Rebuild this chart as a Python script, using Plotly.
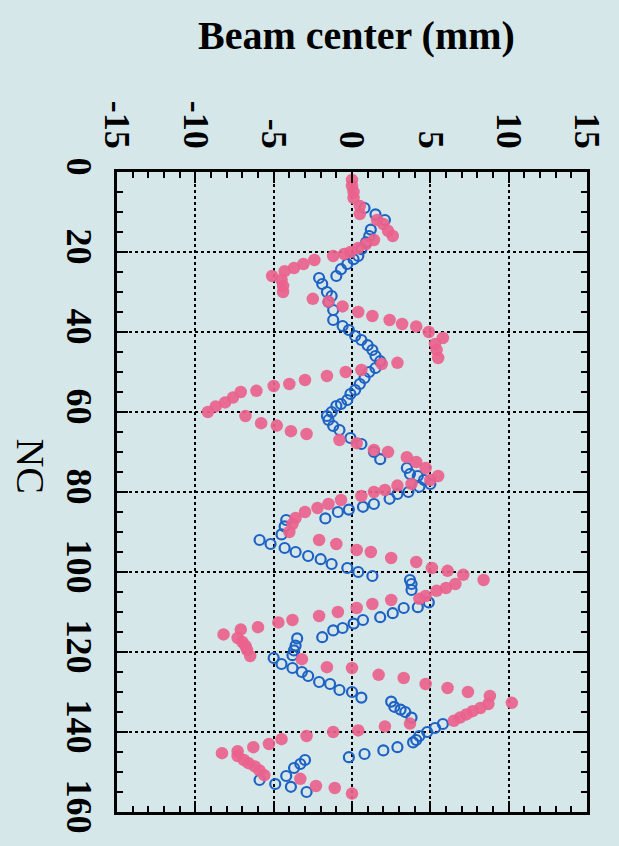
import plotly.graph_objects as go

# Beam center vs NC (chart drawn rotated: NC runs downward, beam center across)
pink_nc = [2, 3.5, 5, 6.5, 8.5, 10.5, 12, 13, 14.7, 16, 17, 18, 19, 20, 20.5, 21,
           22, 23, 24, 24.8, 26, 27, 28.5, 30,
           31.7, 32.4, 33.6, 35, 36, 37, 38, 38.6, 40, 41.5, 43, 44.5, 46.5,
           47.7, 48, 49.5, 50, 51, 52, 53, 53.5, 54.7, 55, 56.4, 57.6, 58.6, 60,
           61, 62.8, 63.4, 64.8, 65.5,
           67, 67.8, 69.5, 70, 71.3, 72.5, 74, 76,
           77, 78, 78.4, 79.5, 80, 81, 82, 83, 84, 85, 86.5, 88, 90,
           92, 93, 94.5, 95, 96.5, 97.5, 99, 99.7, 100.7, 102,
           103, 104, 104.7, 106, 106.7,
           107, 108, 109, 110, 111, 112, 112.6, 113.8, 114.4, 115.6,
           116.5, 117.5, 118.5, 119.5, 121,
           121.8, 123.8, 124, 125.7, 126.5, 128, 129, 130, 131, 132.7,
           133, 134, 134.8, 135.6, 136.4, 137.2,
           137.9, 138.6, 139.6, 140, 141, 141.8, 143, 143.8, 144.8, 145.3,
           146, 147, 147.8, 148.6, 149.6, 150.8,
           151.7, 153.5, 154, 155.4]
pink_bc = [0, 0, 0.1, 0.1, 0.5, 0.5, 1.6, 2.0, 2.3, 2.6, 1.4, 0.9, 0.4, -0.1, -0.5, -1.2,
           -2.4, -3.1, -3.7, -4.3, -5.1, -4.5, -4.4, -4.4,
           -2.5, -1.5, -0.6, 0.4, 1.3, 2.4, 3.2, 4.1, 4.9, 5.8, 5.3, 5.4, 5.5,
           2.9, 1.9, 0.6, -0.4, -1.6, -3.0, -4.0, -5.0, -6.1, -7.1, -7.6, -8.1, -8.7, -9.2,
           -6.8, -5.8, -4.8, -3.9, -2.9,
           -0.8, 0.3, 1.4, 2.3, 3.5, 4.1, 4.7, 5.5,
           5.0, 3.8, 2.9, 2.1, 1.4, 0.6, -0.7, -1.5, -2.2, -3.0, -3.6, -3.8, -4.0,
           -2.1, -1.0, 0.3, 1.2, 2.5, 4.1, 5.1, 6.1, 7.1, 8.4,
           6.6, 6.0, 5.4, 4.7, 4.3,
           2.5, 1.3, 0.3, -0.9, -2.1, -3.8, -4.7, -6.0, -7.1, -8.2,
           -7.3, -7.0, -6.8, -6.7, -6.5,
           -3.2, -1.6, 0.0, 1.7, 3.3, 4.7, 6.1, 7.4, 8.8, 10.2,
           8.7, 8.2, 7.7, 7.3, 6.9, 6.5,
           3.7, 2.1, 0.4, -1.2, -2.9, -4.5, -5.3, -6.3, -7.3, -8.3,
           -7.3, -6.9, -6.6, -6.2, -5.9, -5.6,
           -3.3, -2.3, -1.1, 0.0]

blue_nc = [9, 10.6, 12, 14.4, 16, 17.6, 19.3, 21, 21.8, 23, 24.3, 26,
           26.5, 28, 30, 31, 32.5, 34.5,
           37, 38.5, 39.5, 41, 42, 43.3, 44.5, 46, 47.3,
           49, 50, 51.5, 53, 54.5, 55.5, 57, 58, 58.5, 60, 61, 62, 63.5, 64.5,
           66.5, 68, 70, 71.8,
           74, 75.5, 76, 77, 78,
           78.7, 80, 80.5, 81.7, 83, 83.7, 84.4, 85, 86.6,
           87, 88.6, 90.6,
           92, 93, 94, 95, 96, 96.8, 98, 99, 100, 101,
           102, 103, 104.5,
           107.6, 108.8, 109, 110.3, 111.3, 112, 112.9, 114, 114.6, 116.3,
           116.6, 118.4, 119.6, 120.8,
           121.5, 123, 124, 125, 126, 127.5, 128, 129.5, 130, 131.4,
           132.4, 133.7, 134.4, 135, 136.4,
           138, 139, 140, 141, 142, 142.6,
           143.8, 144.6, 145.5, 146.3,
           147, 148, 149, 151,
           152, 153, 153.7, 155]
blue_bc = [0.8, 1.5, 2.1, 1.2, 1.1, 0.9, 0.6, 0.4, 0.1, -0.3, -0.7, -1.0,
           -2.1, -1.9, -1.6, -1.3, -1.5, -1.2,
           -1.2, -0.6, -0.2, 0.2, 0.6, 1.0, 1.3, 1.5, 1.8,
           1.5, 1.1, 0.8, 0.5, 0.2, -0.1, -0.3, -0.7, -1.0, -1.3, -1.6, -1.5, -1.2, -0.8,
           -0.1, 0.6, 1.4, 1.8,
           3.5, 3.7, 4.2, 4.6, 5.0,
           4.3, 3.6, 2.9, 2.4, 1.4, 0.7, -0.2, -0.9, -1.7,
           -4.2, -4.3, -4.5,
           -5.9, -5.2, -4.3, -3.6, -2.8, -2.0, -1.3, -0.3, 0.4, 1.3,
           3.7, 3.8, 3.8,
           4.9, 4.2, 3.3, 2.6, 1.8, 0.7, 0.1, -0.6, -1.2, -1.9,
           -3.5, -3.6, -3.7, -3.8,
           -5.0, -4.5, -3.8, -3.2, -2.8, -2.1, -1.4, -0.8, 0.0, 0.6,
           2.5, 2.7, 3.1, 3.4, 3.8,
           5.8, 5.3, 4.8, 4.3, 4.1, 3.9,
           2.9, 2.0, 0.8, -0.2,
           -3.0, -3.3, -3.7, -4.2,
           -5.9, -4.9, -3.9, -2.9]

bc_ticks = [-15, -10, -5, 0, 5, 10, 15]
nc_ticks = [0, 20, 40, 60, 80, 100, 120, 140, 160]

BG = "#d6e7e9"
tickfont = dict(family="Liberation Serif", size=36, color="black", weight="bold")

fig = go.Figure()
fig.add_trace(go.Scatter(
    x=blue_bc, y=blue_nc, mode="markers",
    marker=dict(symbol="circle-open", size=10, color="#1e62c4", line=dict(width=2.2, color="#1e62c4")),
    showlegend=False))
fig.add_trace(go.Scatter(
    x=pink_bc, y=pink_nc, mode="markers",
    marker=dict(symbol="circle", size=12.5, color="#e9628c", opacity=0.92, line=dict(width=0)),
    showlegend=False))

axis_common = dict(
    ticks="inside", tickcolor="black", tickwidth=2, ticklen=11,
    showline=True, linecolor="black", linewidth=2.5, mirror="allticks",
    showgrid=True, gridcolor="black", griddash="dot", gridwidth=2,
    zeroline=False, tickangle=90, tickfont=tickfont,
)

fig.update_xaxes(
    range=[-15, 15], side="top", tickmode="array", tickvals=bc_ticks,
    ticktext=[str(v) for v in bc_ticks],
    minor=dict(dtick=1, ticks="inside", ticklen=6, tickwidth=1.5, tickcolor="black", showgrid=False),
    ticklabelstandoff=8,
    **axis_common)
fig.update_yaxes(
    range=[160, 0], tickmode="array", tickvals=nc_ticks,
    ticktext=[str(v) for v in nc_ticks],
    minor=dict(dtick=5, ticks="inside", ticklen=6, tickwidth=1.5, tickcolor="black", showgrid=False),
    ticklabelstandoff=4,
    **axis_common)

fig.add_annotation(text="Beam center (mm)", xref="paper", yref="paper",
                   x=0.51, y=1.0, xanchor="center", yanchor="middle", yshift=137,
                   showarrow=False,
                   font=dict(family="Liberation Serif", size=40, color="black", weight="bold"))
fig.add_annotation(text="NC", xref="paper", yref="paper", x=0, xshift=-86,
                   xanchor="center", yanchor="middle", y=0.54,
                   showarrow=False, textangle=90,
                   font=dict(family="Liberation Serif", size=40, color="black"))

fig.update_layout(
    width=619, height=846,
    margin=dict(l=117, r=27, t=172, b=28),
    paper_bgcolor=BG, plot_bgcolor=BG,
)

fig.write_html("out.html")
